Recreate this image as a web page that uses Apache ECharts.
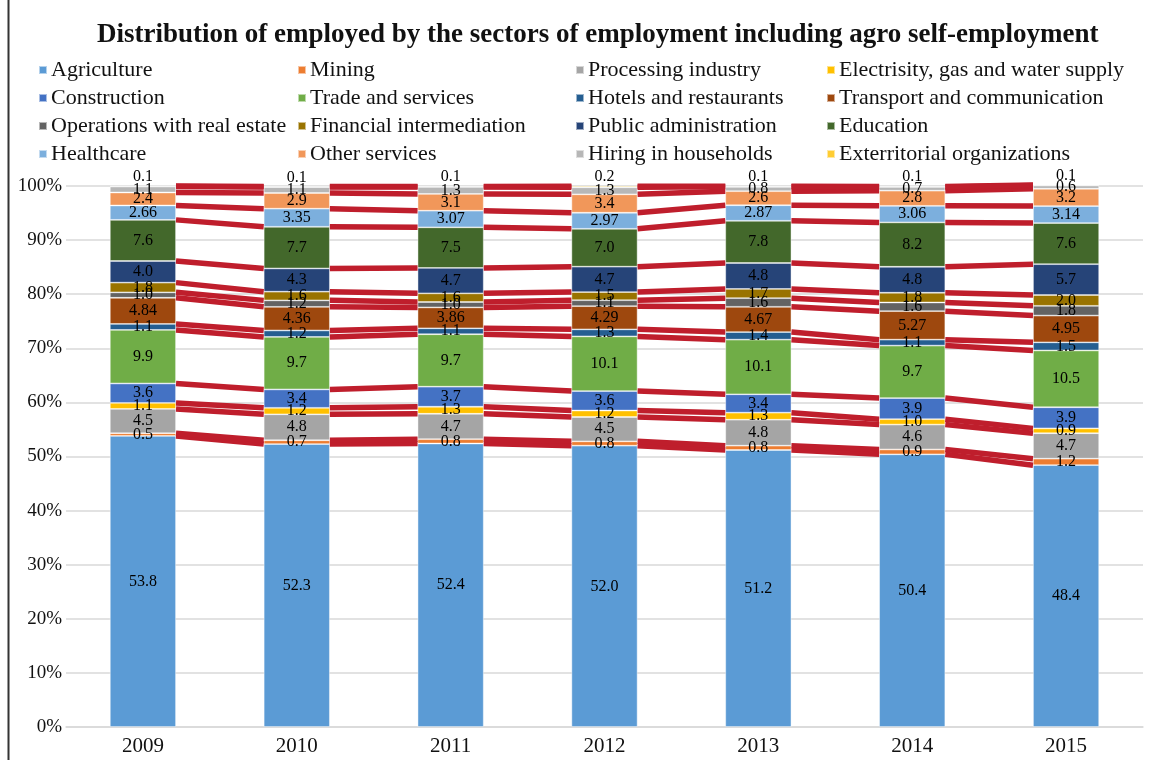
<!DOCTYPE html>
<html>
<head>
<meta charset="utf-8">
<script src="https://cdn.jsdelivr.net/npm/echarts@6/dist/echarts.min.js"></script>
<style>html,body{margin:0;padding:0;background:#fff}#c{width:1150px;height:760px}</style>
</head>
<body>
<div id="c"></div>
<script>
const categories = ['2009', '2010', '2011', '2012', '2013', '2014', '2015'];
const yTicks = [0, 10, 20, 30, 40, 50, 60, 70, 80, 90, 100];

const agriculture   = [53.8, 52.3, 52.4, 52.0, 51.2, 50.4, 48.4];
const mining        = [0.5, 0.7, 0.8, 0.8, 0.8, 0.9, 1.2];
const processing    = [4.5, 4.8, 4.7, 4.5, 4.8, 4.6, 4.7];
const electricity   = [1.1, 1.2, 1.3, 1.2, 1.3, 1.0, 0.9];
const construction  = [3.6, 3.4, 3.7, 3.6, 3.4, 3.9, 3.9];
const trade         = [9.9, 9.7, 9.7, 10.1, 10.1, 9.7, 10.5];
const hotels        = [1.1, 1.2, 1.1, 1.3, 1.4, 1.1, 1.5];
const transport     = [4.84, 4.36, 3.86, 4.29, 4.67, 5.27, 4.95];
const realEstate    = [1.0, 1.2, 1.0, 1.1, 1.6, 1.6, 1.8];
const financial     = [1.8, 1.6, 1.6, 1.5, 1.7, 1.8, 2.0];
const publicAdmin   = [4.0, 4.3, 4.7, 4.7, 4.8, 4.8, 5.7];
const education     = [7.6, 7.7, 7.5, 7.0, 7.8, 8.2, 7.6];
const healthcare    = [2.66, 3.35, 3.07, 2.97, 2.87, 3.06, 3.14];
const otherServices = [2.4, 2.9, 3.1, 3.4, 2.6, 2.8, 3.2];
const hiring        = [1.1, 1.1, 1.3, 1.3, 0.8, 0.7, 0.6];
const exterritorial = [0.1, 0.1, 0.1, 0.2, 0.1, 0.1, 0.1];

const seriesNames = ['Agriculture', 'Mining', 'Processing industry', 'Electrisity, gas and water supply',
  'Construction', 'Trade and services', 'Hotels and restaurants', 'Transport and communication',
  'Operations with real estate', 'Financial intermediation', 'Public administration', 'Education',
  'Healthcare', 'Other services', 'Hiring in households', 'Exterritorial organizations'];
const seriesValues = [agriculture, mining, processing, electricity, construction, trade, hotels, transport,
  realEstate, financial, publicAdmin, education, healthcare, otherServices, hiring, exterritorial];
const decimals = [1, 1, 1, 1, 1, 1, 1, 2, 1, 1, 1, 1, 2, 1, 1, 1];
const colors = ['#5B9BD5', '#ED7D31', '#A5A5A5', '#FFC000', '#4472C4', '#70AD47', '#255E91', '#9E480E',
  '#636363', '#997300', '#264478', '#43682B', '#7CAFDD', '#F1975A', '#B7B7B7', '#FFCD33'];

const legendColumns = [
  ['Agriculture', 'Construction', 'Operations with real estate', 'Healthcare'],
  ['Mining', 'Trade and services', 'Financial intermediation', 'Other services'],
  ['Processing industry', 'Hotels and restaurants', 'Public administration', 'Hiring in households'],
  ['Electrisity, gas and water supply', 'Transport and communication', 'Education', 'Exterritorial organizations']
];
const legendLefts = [38, 297, 575, 826];

const BAR_RATIO = 0.43;
const SERIF = '"Liberation Serif", "DejaVu Serif", serif';

// cumulative tops
const cum = [];
seriesValues.forEach((vals, s) => {
  cum.push(vals.map((v, j) => (s === 0 ? 0 : cum[s - 1][j]) + v));
});

const series = seriesValues.map((vals, s) => ({
  name: seriesNames[s],
  type: 'bar',
  stack: 'total',
  clip: false,
  barWidth: (BAR_RATIO * 100) + '%',
  data: vals,
  itemStyle: { color: colors[s], borderColor: 'rgba(255,255,255,0.55)', borderWidth: 0.8 },
  label: {
    show: true,
    position: s === seriesValues.length - 1 ? 'top' : 'inside',
    distance: 1,
    color: '#000',
    fontFamily: SERIF,
    fontSize: 16,
    formatter: p => Number(p.value).toFixed(decimals[s])
  },
  emphasis: { disabled: true },
  z: 2
}));

const lineData = [];
for (let s = 0; s < seriesValues.length; s++) {
  for (let j = 0; j < categories.length - 1; j++) lineData.push([j, s]);
}
series.push({
  type: 'custom',
  name: 'seriesLines',
  data: lineData,
  silent: true,
  clip: false,
  z: 3,
  renderItem: (params, api) => {
    const j = api.value(0), s = api.value(1);
    const p1 = api.coord([j, cum[s][j]]);
    const p2 = api.coord([j + 1, cum[s][j + 1]]);
    const half = api.size([1, 0])[0] * BAR_RATIO / 2;
    return {
      type: 'line',
      shape: { x1: p1[0] + half, y1: p1[1], x2: p2[0] - half, y2: p2[1] },
      style: { stroke: '#BF1E2C', lineWidth: 5.5 }
    };
  }
});

const legends = legendColumns.map((cols, i) => ({
  data: cols,
  orient: 'vertical',
  left: legendLefts[i],
  top: 59,
  itemWidth: 8,
  itemHeight: 8,
  itemGap: 6,
  icon: 'rect',
  selectedMode: false,
  padding: 0,
  textStyle: { fontFamily: SERIF, fontSize: 22, color: '#111', lineHeight: 22, padding: [0, 0, 0, -1] }
}));

const chart = echarts.init(document.getElementById('c'));
chart.setOption({
  animation: false,
  backgroundColor: '#fff',
  title: {
    text: 'Distribution of employed by the sectors of employment including agro self-employment',
    left: 97,
    top: 22,
    padding: 0,
    textStyle: { fontFamily: SERIF, fontSize: 27, fontWeight: 'bold', color: '#111' }
  },
  legend: legends,
  grid: { left: 66, right: 7, top: 186, bottom: 33, containLabel: false },
  xAxis: {
    type: 'category',
    data: categories,
    axisLine: { show: true, lineStyle: { color: '#d9d9d9', width: 1.5 } },
    axisTick: { show: false },
    axisLabel: { fontFamily: SERIF, fontSize: 21, color: '#111', margin: 9 }
  },
  yAxis: {
    type: 'value',
    min: yTicks[0],
    max: yTicks[yTicks.length - 1],
    interval: 10,
    axisLine: { show: false },
    axisTick: { show: false },
    splitLine: { lineStyle: { color: '#d9d9d9', width: 1.5 } },
    axisLabel: { fontFamily: SERIF, fontSize: 19, color: '#111', margin: 4, formatter: '{value}%' }
  },
  graphic: [{
    type: 'line',
    shape: { x1: 8.5, y1: 0, x2: 8.5, y2: 760 },
    style: { stroke: '#333', lineWidth: 2 }
  }],
  series: series
});
</script>
</body>
</html>
